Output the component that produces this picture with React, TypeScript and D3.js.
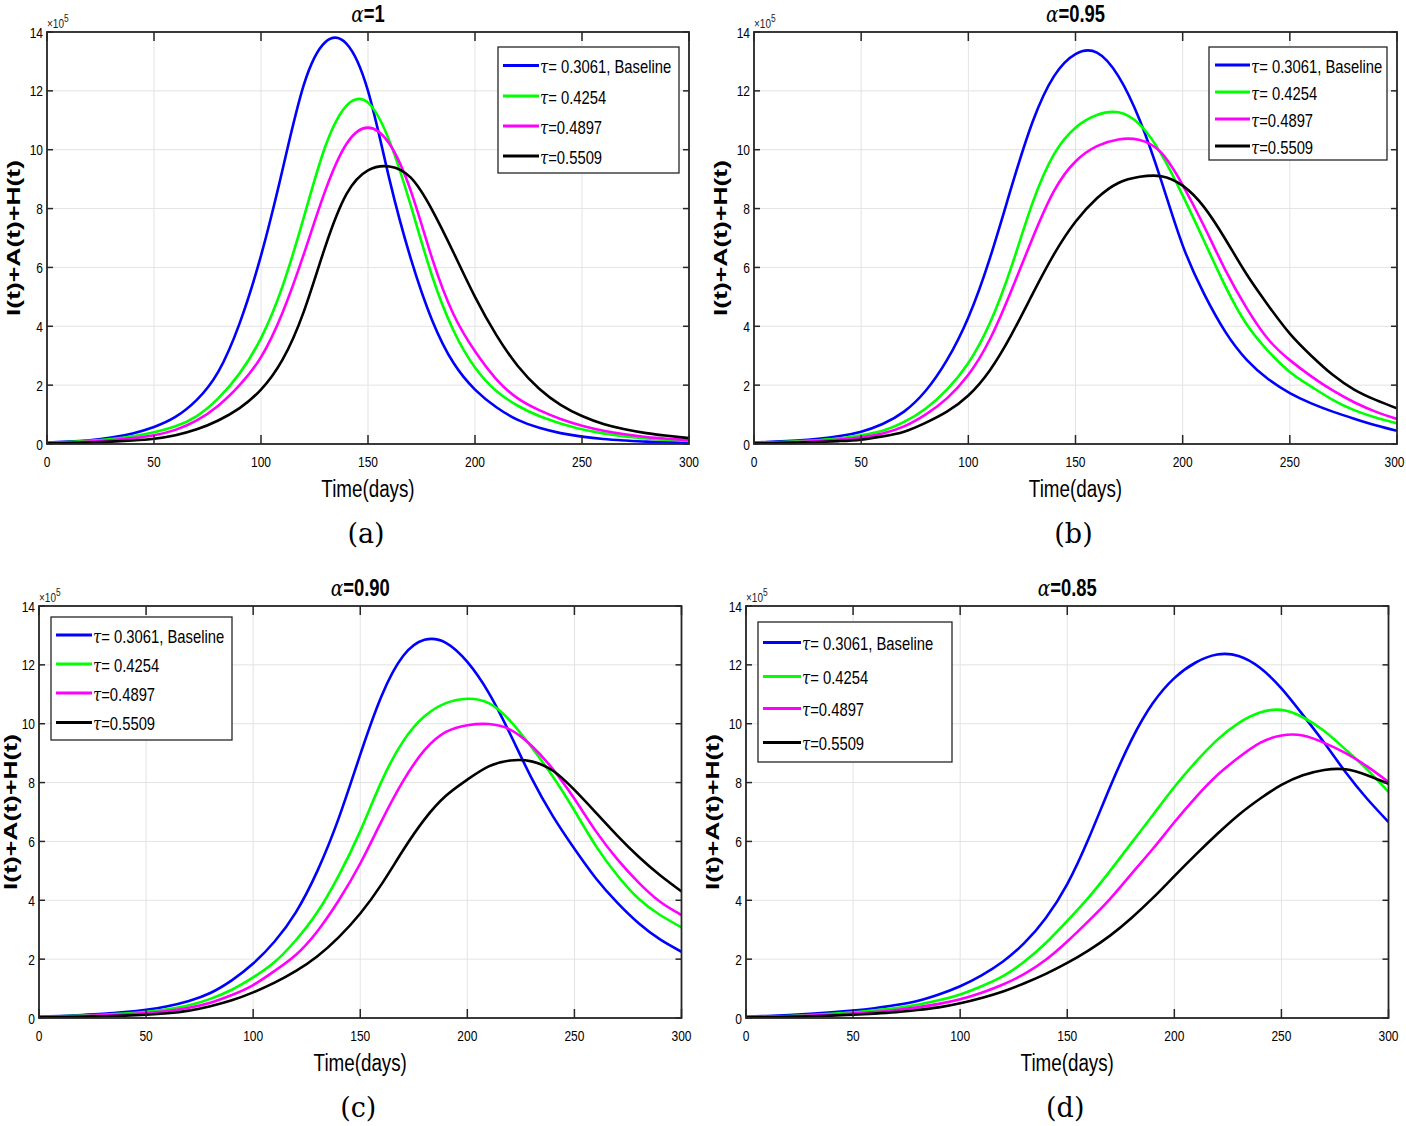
import React from "react";
import * as d3 from "d3";

// ---------- data ----------
const DAYS = [0, 10, 20, 30, 40, 50, 60, 70, 80, 90, 100, 110, 120, 130, 140, 150, 160, 170, 180, 190, 200, 210, 220, 230, 240, 250, 260, 270, 280, 290, 300];
const X_TICKS = [0, 50, 100, 150, 200, 250, 300];
const Y_TICKS = [0, 2, 4, 6, 8, 10, 12, 14];
const SERIES_LABELS = ["= 0.3061, Baseline", "= 0.4254", "=0.4897", "=0.5509"];
const SERIES_COLORS = ["#0000ff", "#00ff00", "#ff00ff", "#000000"];
const ALPHAS = ["=1", "=0.95", "=0.90", "=0.85"];
const CAPTIONS = ["(a)", "(b)", "(c)", "(d)"];

// values in units of 1e5
const A_BLUE = [0.05, 0.08, 0.13, 0.22, 0.36, 0.58, 0.92, 1.5, 2.45, 4.1, 6.4, 9.3, 12.2, 13.65, 13.6, 12.0, 9.0, 6.3, 4.2, 2.75, 1.85, 1.25, 0.82, 0.55, 0.37, 0.25, 0.17, 0.12, 0.08, 0.06, 0.05];
const A_GREEN = [0.04, 0.07, 0.11, 0.17, 0.26, 0.4, 0.6, 0.95, 1.55, 2.4, 3.6, 5.35, 7.7, 10.1, 11.5, 11.6, 10.3, 8.1, 5.7, 3.85, 2.6, 1.8, 1.3, 0.95, 0.7, 0.5, 0.36, 0.26, 0.19, 0.14, 0.1];
const A_MAGENTA = [0.03, 0.05, 0.08, 0.13, 0.2, 0.3, 0.48, 0.8, 1.3, 2.0, 2.95, 4.45, 6.45, 8.6, 10.2, 10.75, 10.2, 8.6, 6.3, 4.4, 3.15, 2.2, 1.55, 1.15, 0.85, 0.62, 0.45, 0.33, 0.24, 0.18, 0.13];
const A_BLACK = [0.02, 0.03, 0.05, 0.08, 0.12, 0.18, 0.3, 0.5, 0.8, 1.22, 1.85, 2.86, 4.5, 6.7, 8.5, 9.3, 9.43, 9.05, 7.95, 6.5, 5.0, 3.7, 2.65, 1.88, 1.33, 0.95, 0.68, 0.5, 0.37, 0.28, 0.2];

const B_BLUE = [0.05, 0.08, 0.12, 0.18, 0.27, 0.42, 0.68, 1.1, 1.8, 2.85, 4.3, 6.3, 8.7, 10.95, 12.5, 13.25, 13.3, 12.5, 11.0, 8.95, 6.75, 5.1, 3.8, 2.85, 2.2, 1.73, 1.38, 1.1, 0.86, 0.64, 0.45];
const B_GREEN = [0.04, 0.06, 0.09, 0.13, 0.19, 0.3, 0.45, 0.75, 1.2, 1.85, 2.75, 4.1, 6.0, 8.2, 9.85, 10.75, 11.18, 11.27, 10.85, 9.85, 8.45, 6.9, 5.35, 4.05, 3.15, 2.45, 1.95, 1.5, 1.15, 0.9, 0.7];
const B_MAGENTA = [0.03, 0.05, 0.07, 0.1, 0.15, 0.23, 0.36, 0.6, 1.0, 1.55, 2.35, 3.55, 5.2, 7.0, 8.6, 9.6, 10.12, 10.35, 10.33, 9.9, 8.8, 7.4, 5.9, 4.6, 3.55, 2.85, 2.3, 1.82, 1.42, 1.1, 0.85];
const B_BLACK = [0.02, 0.03, 0.05, 0.07, 0.1, 0.15, 0.26, 0.42, 0.72, 1.1, 1.65, 2.5, 3.7, 5.1, 6.45, 7.55, 8.35, 8.87, 9.08, 9.1, 8.78, 8.05, 6.95, 5.75, 4.7, 3.75, 3.0, 2.35, 1.85, 1.5, 1.21];

const C_BLUE = [0.05, 0.07, 0.1, 0.14, 0.2, 0.28, 0.4, 0.58, 0.85, 1.28, 1.85, 2.6, 3.6, 5.0, 6.8, 8.95, 10.95, 12.3, 12.85, 12.75, 12.1, 11.05, 9.65, 8.15, 6.85, 5.75, 4.75, 3.92, 3.22, 2.67, 2.25];
const C_GREEN = [0.04, 0.06, 0.08, 0.11, 0.15, 0.21, 0.3, 0.43, 0.65, 0.96, 1.38, 1.9, 2.65, 3.6, 4.85, 6.35, 8.05, 9.4, 10.25, 10.7, 10.85, 10.7, 10.1, 9.2, 8.2, 7.05, 5.85, 4.85, 4.05, 3.5, 3.08];
const C_MAGENTA = [0.03, 0.05, 0.07, 0.09, 0.12, 0.17, 0.24, 0.35, 0.52, 0.78, 1.12, 1.6, 2.15, 2.95, 4.0, 5.25, 6.7, 8.05, 9.1, 9.72, 9.95, 9.99, 9.8, 9.25, 8.45, 7.45, 6.35, 5.4, 4.6, 3.95, 3.5];
const C_BLACK = [0.02, 0.03, 0.04, 0.06, 0.08, 0.11, 0.16, 0.25, 0.4, 0.6, 0.87, 1.2, 1.6, 2.1, 2.75, 3.55, 4.55, 5.7, 6.75, 7.55, 8.1, 8.55, 8.75, 8.72, 8.4, 7.75, 6.98, 6.2, 5.48, 4.85, 4.3];

const D_BLUE = [0.05, 0.07, 0.1, 0.14, 0.19, 0.25, 0.33, 0.44, 0.58, 0.8, 1.08, 1.45, 1.92, 2.55, 3.4, 4.55, 6.1, 7.85, 9.45, 10.7, 11.55, 12.08, 12.35, 12.3, 11.9, 11.2, 10.3, 9.35, 8.35, 7.45, 6.66];
const D_GREEN = [0.04, 0.05, 0.07, 0.1, 0.14, 0.19, 0.26, 0.34, 0.45, 0.6, 0.8, 1.08, 1.42, 1.92, 2.55, 3.3, 4.1, 5.0, 5.95, 6.9, 7.85, 8.7, 9.45, 10.02, 10.38, 10.47, 10.22, 9.75, 9.12, 8.45, 7.68];
const D_MAGENTA = [0.03, 0.04, 0.06, 0.08, 0.11, 0.15, 0.2, 0.27, 0.36, 0.48, 0.64, 0.86, 1.14, 1.5, 1.98, 2.6, 3.3, 4.05, 4.9, 5.75, 6.65, 7.5, 8.25, 8.85, 9.35, 9.6, 9.6, 9.35, 9.0, 8.55, 8.02];
const D_BLACK = [0.02, 0.03, 0.04, 0.06, 0.08, 0.11, 0.15, 0.2, 0.27, 0.36, 0.5, 0.68, 0.9, 1.18, 1.5, 1.87, 2.3, 2.8, 3.4, 4.08, 4.82, 5.55, 6.25, 6.9, 7.45, 7.92, 8.25, 8.43, 8.45, 8.25, 7.96];

const PANEL_DATA = [
  [A_BLUE, A_GREEN, A_MAGENTA, A_BLACK],
  [B_BLUE, B_GREEN, B_MAGENTA, B_BLACK],
  [C_BLUE, C_GREEN, C_MAGENTA, C_BLACK],
  [D_BLUE, D_GREEN, D_MAGENTA, D_BLACK],
];

// ---------- layout ----------
const LAYOUT = [
  { l: 47, t: 32, r: 689, b: 444, leg: { x: 498, y: 47, w: 181, h: 126, rows: [65.5, 96, 126, 156], x0: 503, x1: 539 } },
  { l: 754, t: 32, r: 1397, b: 444, leg: { x: 1209, y: 47, w: 178, h: 113, rows: [65, 92, 119, 146], x0: 1215, x1: 1250 } },
  { l: 39, t: 606, r: 681.5, b: 1018, leg: { x: 51, y: 617, w: 181, h: 123, rows: [635, 664, 693, 722.5], x0: 56, x1: 92 } },
  { l: 746, t: 606, r: 1388.5, b: 1018, leg: { x: 758, y: 622, w: 194, h: 140, rows: [642.5, 676.5, 708.5, 742.5], x0: 763, x1: 801 } },
];

const SANS = "'Liberation Sans', Arial, sans-serif";
const SERIF_MATH = "'DejaVu Serif', 'Liberation Serif', serif";
const AXIS = "#262626";
const SX = 0.8; // horizontal squeeze of the figure's sans text
const PAGE_W = 1406;

function NText(props: any) {
  const { x, y, children, ...rest } = props;
  return (
    <text transform={`translate(${x},${y}) scale(${SX},1)`} {...rest}>
      {children}
    </text>
  );
}

function Panel({ idx }: { idx: number }) {
  const g = LAYOUT[idx];
  const x = d3.scaleLinear().domain([0, 300]).range([g.l, g.r]);
  const y = d3.scaleLinear().domain([0, 14]).range([g.b, g.t]);
  const line = d3
    .line<number>()
    .x((_, i) => x(DAYS[i]))
    .y((v) => y(v))
    .curve(d3.curveNatural);
  const clipId = `clip${idx}`;
  const cx = (g.l + g.r) / 2;
  const cy = (g.t + g.b) / 2;
  const leg = g.leg;
  const tickFont = 15;
  const halfLabel = (s: string) => (s.length * 0.556 * tickFont * SX) / 2;
  const yLabX = Math.max(g.l - 27, 17);
  return (
    <g>
      <defs>
        <clipPath id={clipId}>
          <rect x={g.l} y={g.t} width={g.r - g.l} height={g.b - g.t} />
        </clipPath>
      </defs>
      <rect x={g.l} y={g.t} width={g.r - g.l} height={g.b - g.t} fill="#fff" />
      {X_TICKS.map((t) => (
        <line key={"gx" + t} x1={x(t)} x2={x(t)} y1={g.t} y2={g.b} stroke="#e3e3e3" strokeWidth={1} />
      ))}
      {Y_TICKS.map((t) => (
        <line key={"gy" + t} x1={g.l} x2={g.r} y1={y(t)} y2={y(t)} stroke="#e3e3e3" strokeWidth={1} />
      ))}
      <g clipPath={`url(#${clipId})`}>
        {PANEL_DATA[idx].map((vals, i) => (
          <path key={i} d={line(vals) || ""} fill="none" stroke={SERIES_COLORS[i]} strokeWidth={2.6} strokeLinejoin="round" />
        ))}
      </g>
      {X_TICKS.map((t) => {
        const lx = Math.min(x(t), PAGE_W - 1.5 - halfLabel(String(t)));
        return (
          <g key={"tx" + t}>
            <line x1={x(t)} x2={x(t)} y1={g.b} y2={g.b - 9} stroke={AXIS} strokeWidth={1.5} />
            <line x1={x(t)} x2={x(t)} y1={g.t} y2={g.t + 9} stroke={AXIS} strokeWidth={1.5} />
            <NText x={lx} y={g.b + 23} textAnchor="middle" fontFamily={SANS} fontSize={tickFont} fill="#000">
              {t}
            </NText>
          </g>
        );
      })}
      {Y_TICKS.map((t) => (
        <g key={"ty" + t}>
          <line x1={g.l} x2={g.l + 6} y1={y(t)} y2={y(t)} stroke={AXIS} strokeWidth={1.5} />
          <line x1={g.r} x2={g.r - 6} y1={y(t)} y2={y(t)} stroke={AXIS} strokeWidth={1.5} />
          <NText x={g.l - 4} y={y(t) + 5.5} textAnchor="end" fontFamily={SANS} fontSize={tickFont} fill="#000">
            {t}
          </NText>
        </g>
      ))}
      <rect x={g.l} y={g.t} width={g.r - g.l} height={g.b - g.t} fill="none" stroke={AXIS} strokeWidth={1.8} />
      <NText x={g.l} y={g.t - 4} fontFamily={SANS} fontSize={12.5} fill="#222">
        ×10
        <tspan dy={-6} fontSize={10.5}>5</tspan>
      </NText>
      <NText x={cx} y={g.t - 10} textAnchor="middle" fontSize={23} fill="#000">
        <tspan fontFamily={SERIF_MATH} fontStyle="italic" fontWeight="normal">α</tspan>
        <tspan fontFamily={SANS} fontWeight="bold">{ALPHAS[idx]}</tspan>
      </NText>
      <NText x={cx} y={g.b + 53} textAnchor="middle" fontFamily={SANS} fontSize={23.5} fill="#000">
        Time(days)
      </NText>
      <text
        transform={`translate(${yLabX},${cy}) rotate(-90)`}
        textAnchor="middle"
        fontFamily={SANS}
        fontWeight="bold"
        fontSize={17.5}
        textLength={156}
        lengthAdjust="spacingAndGlyphs"
        fill="#000"
      >
        I(t)+A(t)+H(t)
      </text>
      <text x={cx - 2} y={g.b + 99} textAnchor="middle" fontFamily={SERIF_MATH} fontSize={27} fill="#000">
        {CAPTIONS[idx]}
      </text>
      <rect x={leg.x} y={leg.y} width={leg.w} height={leg.h} fill="#fff" stroke={AXIS} strokeWidth={1.3} />
      {SERIES_LABELS.map((lab, i) => (
        <g key={"lg" + i}>
          <line x1={leg.x0} x2={leg.x1} y1={leg.rows[i]} y2={leg.rows[i]} stroke={SERIES_COLORS[i]} strokeWidth={3} />
          <NText x={leg.x1 + 1} y={leg.rows[i] + 7.5} fontSize={18.5} fill="#000">
            <tspan fontFamily={SERIF_MATH} fontStyle="italic">τ</tspan>
            <tspan fontFamily={SANS}>{lab}</tspan>
          </NText>
        </g>
      ))}
    </g>
  );
}

export default function App() {
  return (
    <svg width={1406} height={1126} viewBox="0 0 1406 1126" style={{ display: "block", position: "absolute", left: 0, top: 0, background: "#fff" }}>
      <rect x={0} y={0} width={1406} height={1126} fill="#fff" />
      {[0, 1, 2, 3].map((i) => (
        <Panel key={i} idx={i} />
      ))}
    </svg>
  );
}
